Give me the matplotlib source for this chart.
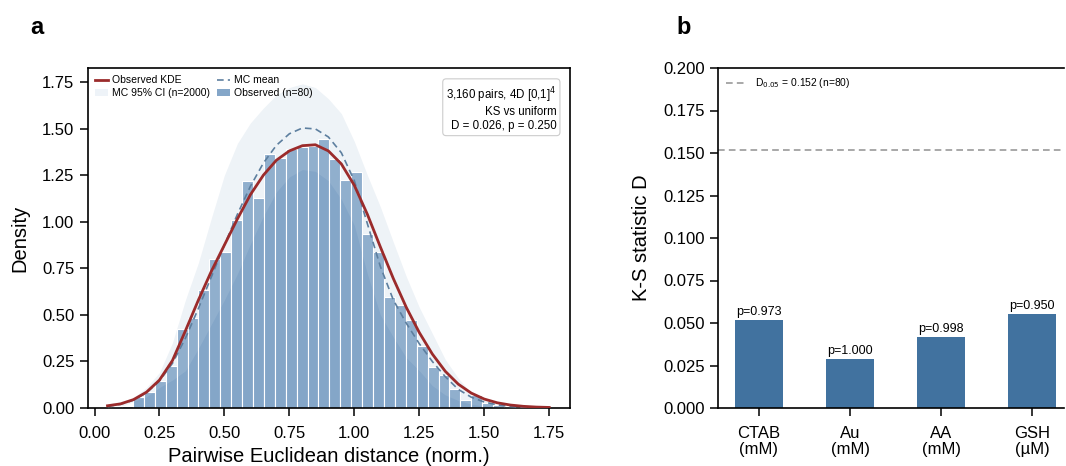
import numpy as np
import matplotlib
matplotlib.use("Agg")
import matplotlib.pyplot as plt
from matplotlib.patches import Patch
from matplotlib.lines import Line2D

plt.rcParams['font.family'] = ['Liberation Sans', 'DejaVu Sans']

# ---------------- Panel a data ----------------
bin_edges = np.linspace(0.064, 1.660, 39)
hist_density = [0.012, 0.010, 0.057, 0.084, 0.145, 0.226, 0.423, 0.484, 0.635, 0.798,
                0.837, 1.009, 1.220, 1.127, 1.363, 1.340, 1.389, 1.403, 1.406, 1.444,
                1.335, 1.224, 1.268, 0.934, 0.839, 0.598, 0.553, 0.472, 0.334, 0.222,
                0.177, 0.100, 0.043, 0.068, 0.029, 0.016, 0.010, 0.005]

grid_x = [0.05, 0.10, 0.15, 0.20, 0.25, 0.30, 0.35, 0.40, 0.45, 0.50, 0.55, 0.60,
          0.65, 0.70, 0.75, 0.80, 0.85, 0.90, 0.95, 1.00, 1.05, 1.10, 1.15, 1.20,
          1.25, 1.30, 1.35, 1.40, 1.45, 1.50, 1.55, 1.60, 1.65, 1.70, 1.75]
kde_obs = [0.012, 0.022, 0.045, 0.085, 0.150, 0.255, 0.415, 0.580, 0.735, 0.875, 1.015, 1.145,
           1.250, 1.330, 1.380, 1.408, 1.413, 1.380, 1.310, 1.195, 1.040, 0.865, 0.695, 0.540,
           0.405, 0.290, 0.197, 0.128, 0.080, 0.048, 0.028, 0.016, 0.009, 0.005, 0.003]
mc_mean = [0.008, 0.020, 0.042, 0.082, 0.145, 0.240, 0.375, 0.535, 0.705, 0.875, 1.040, 1.190,
           1.315, 1.410, 1.472, 1.503, 1.498, 1.455, 1.370, 1.220, 0.990, 0.760, 0.580, 0.455,
           0.345, 0.250, 0.168, 0.100, 0.058, 0.032, 0.017, 0.008, 0.004, 0.002, 0.001]
mc_upper = [0.020, 0.035, 0.055, 0.110, 0.190, 0.350, 0.580, 0.780, 1.020, 1.250, 1.420, 1.530,
            1.610, 1.680, 1.720, 1.740, 1.720, 1.660, 1.580, 1.430, 1.250, 1.080, 0.890, 0.705,
            0.540, 0.400, 0.260, 0.160, 0.080, 0.045, 0.020, 0.010, 0.005, 0.003, 0.001]
mc_lower = [0.000, 0.005, 0.035, 0.060, 0.110, 0.150, 0.200, 0.320, 0.450, 0.580, 0.720, 0.880,
            1.030, 1.160, 1.240, 1.280, 1.270, 1.220, 1.120, 0.980, 0.720, 0.500, 0.380, 0.270,
            0.200, 0.120, 0.070, 0.040, 0.020, 0.010, 0.005, 0.000, 0.000, 0.000, 0.000]

# ---------------- Panel b data ----------------
categories = ['CTAB\n(mM)', 'Au\n(mM)', 'AA\n(mM)', 'GSH\n(µM)']
ks_D = [0.0518, 0.0288, 0.0416, 0.0553]
ks_p = ['p=0.973', 'p=1.000', 'p=0.998', 'p=0.950']
D_crit = 0.152

fig = plt.figure(figsize=(10.66, 4.66), dpi=100)
W, H = 1066, 466

def ax_rect(l, r, t, b):
    return [l / W, (H - b) / H, (r - l) / W, (b - t) / H]

# ---------------- Panel a ----------------
ax = fig.add_axes(ax_rect(87.5, 570, 68, 408))
edges = np.asarray(bin_edges)
widths = np.diff(edges)
ax.fill_between(grid_x, mc_lower, mc_upper, color='#edf2f7', linewidth=0, zorder=1)
ax.bar(edges[:-1], hist_density, width=widths, align='edge',
       color='#84a6c8', edgecolor='white', linewidth=0.8, zorder=2)
ax.fill_between(grid_x, mc_lower, mc_upper, color='white', alpha=0.10,
                linewidth=0, zorder=3)
ax.plot(grid_x, mc_mean, color='#5d7f9f', lw=1.2, ls=(0, (4, 2.5)), zorder=4)
ax.plot(grid_x, kde_obs, color='#9b2b2b', lw=2.0, zorder=5)

ax.set_xlim(-0.027, 1.83)
ax.set_ylim(0, 1.825)
ax.set_xticks(np.arange(0, 1.76, 0.25))
ax.set_yticks(np.arange(0, 1.76, 0.25))
ax.xaxis.set_major_formatter(matplotlib.ticker.FormatStrFormatter('%.2f'))
ax.yaxis.set_major_formatter(matplotlib.ticker.FormatStrFormatter('%.2f'))
ax.tick_params(labelsize=12, length=6, width=1.1, direction='out')
ax.tick_params(axis='x', pad=7)
for s in ax.spines.values():
    s.set_linewidth(1.2)
ax.set_xlabel('Pairwise Euclidean distance (norm.)', fontsize=14.5, labelpad=4)
ax.set_ylabel('Density', fontsize=14.5, labelpad=9)

handles = [Line2D([], [], color='#9b2b2b', lw=2.0),
           Patch(facecolor='#eef3f8', edgecolor='none'),
           Line2D([], [], color='#5d7f9f', lw=1.2, ls=(0, (4, 2.5))),
           Patch(facecolor='#84a6c8', edgecolor='none')]
labels = ['Observed KDE', 'MC 95% CI (n=2000)', 'MC mean', 'Observed (n=80)']
ax.legend(handles, labels, loc='upper left', ncol=2, fontsize=7.5, frameon=False,
          handlelength=1.3, columnspacing=0.6, handletextpad=0.4, labelspacing=0.25,
          borderaxespad=0.3, bbox_to_anchor=(0.0, 1.0))

ax.text(0.972, 0.95, '3,160 pairs, 4D [0,1]$^4$\nKS vs uniform\nD = 0.026, p = 0.250',
        transform=ax.transAxes, ha='right', va='top', fontsize=8.3,
        multialignment='right', linespacing=1.2,
        bbox=dict(boxstyle='round,pad=0.3', facecolor='white', edgecolor='#cccccc', linewidth=0.8))

# ---------------- Panel b ----------------
bx = fig.add_axes(ax_rect(718, 1064, 68, 408))
xpos = np.arange(len(categories))
bx.bar(xpos, ks_D, width=0.53, color='#41729f', zorder=2)
for xi, d, p in zip(xpos, ks_D, ks_p):
    bx.text(xi, d + 0.0012, p, ha='center', va='bottom', fontsize=9)
bx.axhline(D_crit, color='#999999', lw=1.2, ls=(0, (4, 2.5)), zorder=1,
           label='D$_{0.05}$ = 0.152 (n=80)')
bx.set_xlim(-0.45, 3.35)
bx.set_ylim(0, 0.2)
bx.set_yticks(np.arange(0, 0.2001, 0.025))
bx.yaxis.set_major_formatter(matplotlib.ticker.FormatStrFormatter('%.3f'))
bx.set_xticks(xpos)
bx.set_xticklabels(categories, fontsize=12, linespacing=1.1)
bx.tick_params(labelsize=12, length=6, width=1.1, direction='out')
bx.tick_params(axis='x', pad=7)
bx.spines['right'].set_visible(False)
for s in ['left', 'bottom', 'top']:
    bx.spines[s].set_linewidth(1.2)
bx.set_ylabel('K-S statistic D', fontsize=14.5, labelpad=9)
bx.legend(loc='upper left', fontsize=7.4, frameon=False, handlelength=2.0,
          borderaxespad=0.4)

fig.text(30 / W, 1 - 28 / H, 'a', fontsize=17, fontweight='bold', ha='left', va='center')
fig.text(676 / W, 1 - 28 / H, 'b', fontsize=17, fontweight='bold', ha='left', va='center')

fig.savefig('out.png', dpi=100)
